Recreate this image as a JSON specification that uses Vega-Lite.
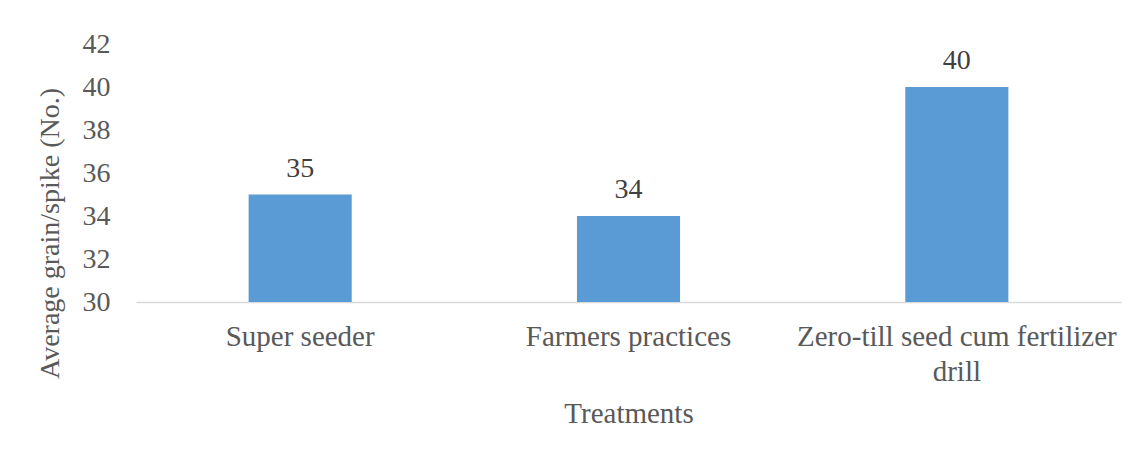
{
  "$schema": "https://vega.github.io/schema/vega-lite/v6.json",
  "autosize": {"type": "none"},
  "width": 985,
  "height": 258,
  "padding": {"left": 136, "top": 44, "right": 16, "bottom": 148},
  "background": "white",
  "config": {
    "view": {"stroke": null},
    "font": "Liberation Serif"
  },
  "data": {
    "values": [
      {"treatment": "Super seeder", "grain": 35},
      {"treatment": "Farmers practices", "grain": 34},
      {"treatment": "Zero-till seed cum fertilizer drill", "grain": 40}
    ]
  },
  "encoding": {
    "x": {
      "field": "treatment",
      "type": "nominal",
      "sort": null,
      "scale": {"paddingInner": 0, "paddingOuter": 0},
      "axis": {
        "title": "Treatments",
        "titleFont": "Liberation Serif",
        "titleFontSize": 29,
        "titleFontWeight": "normal",
        "titleColor": "#595959",
        "titleBaseline": "alphabetic",
        "titleY": 120,
        "labelFont": "Liberation Serif",
        "labelFontSize": 29,
        "labelColor": "#595959",
        "labelAngle": 0,
        "labelBaseline": "alphabetic",
        "labelPadding": 43,
        "labelLineHeight": 35,
        "labelLimit": 500,
        "labelExpr": "datum.label == 'Zero-till seed cum fertilizer drill' ? ['Zero-till seed cum fertilizer', 'drill'] : datum.label",
        "ticks": false,
        "domainColor": "#d9d9d9",
        "domainWidth": 1.5,
        "grid": false
      }
    },
    "y": {
      "field": "grain",
      "type": "quantitative",
      "scale": {"domain": [30, 42], "nice": false, "zero": false},
      "axis": {
        "title": "Average grain/spike (No.)",
        "titleFont": "Liberation Serif",
        "titleFontSize": 28,
        "titleFontWeight": "normal",
        "titleColor": "#595959",
        "titleBaseline": "alphabetic",
        "titleAlign": "center",
        "titleAngle": -90,
        "titleX": -78,
        "titleY": 189,
        "values": [30, 32, 34, 36, 38, 40, 42],
        "labelFont": "Liberation Serif",
        "labelFontSize": 28,
        "labelColor": "#595959",
        "labelPadding": 26,
        "ticks": false,
        "domain": false,
        "grid": false
      }
    }
  },
  "layer": [
    {
      "mark": {"type": "bar", "color": "#5B9BD5", "width": {"band": 0.314}, "clip": true}
    },
    {
      "mark": {
        "type": "text",
        "baseline": "alphabetic",
        "dy": -18,
        "font": "Liberation Serif",
        "fontSize": 28,
        "color": "#404040"
      },
      "encoding": {"text": {"field": "grain", "type": "quantitative"}}
    }
  ]
}
